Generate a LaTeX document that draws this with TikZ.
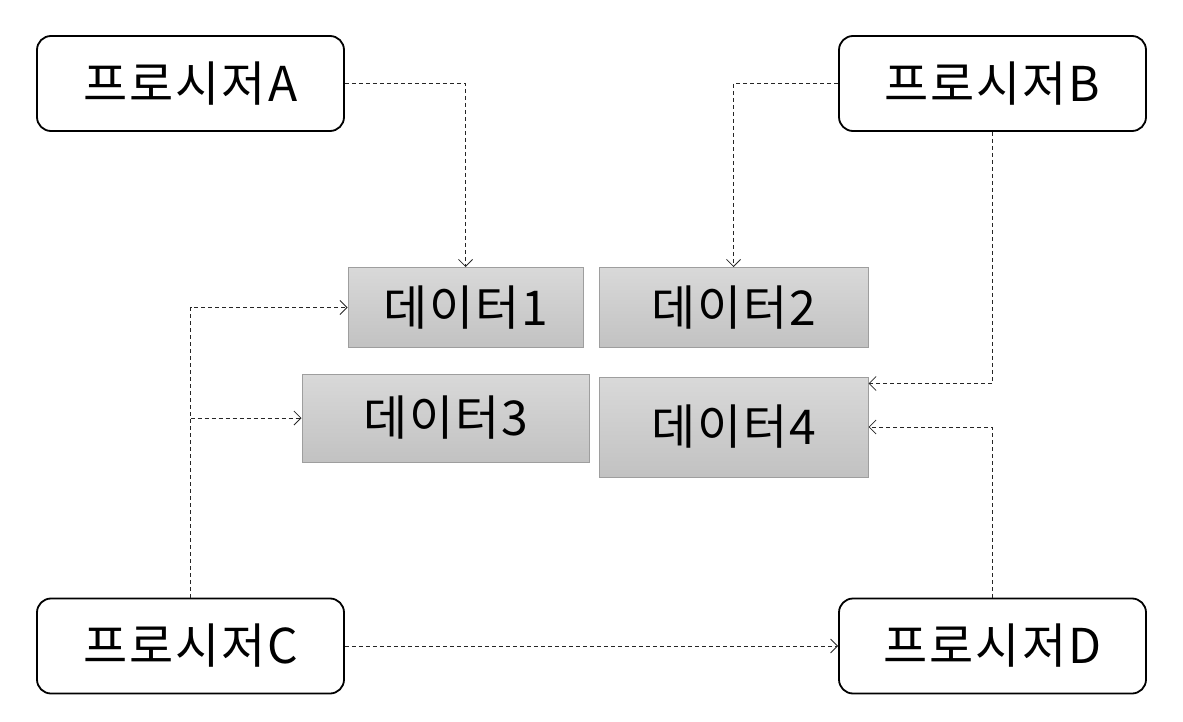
\documentclass[tikz,border=0pt]{standalone}
\usepackage{fontspec}
\setmainfont{Noto Sans CJK KR}[LetterSpace=4]
\usetikzlibrary{arrows.meta,calc}
\begin{document}
\begin{tikzpicture}[x=1bp,y=-1bp,
  proc/.style={draw=black,line width=1.8bp,rounded corners=14bp,fill=white,
    minimum width=307bp,minimum height=95bp,inner sep=0pt,
    font=\fontsize{48bp}{56bp}\selectfont},
  datab/.style={draw=black!38,line width=1bp,top color=black!15,bottom color=black!24,
    minimum height=80bp,inner sep=0pt,font=\fontsize{48bp}{56bp}\selectfont},
  conn/.style={draw=black!85,line width=0.8bp,dash pattern=on 4bp off 3bp,
    -{Straight Barb[length=7bp,width=14bp,line width=0.8bp]}}]
\useasboundingbox (0,0) rectangle (1183,722);
\node[proc] (A) at (190.5,83.5) {프로시저A};
\node[proc] (B) at (992.5,83.5) {프로시저B};
\node[proc] (C) at (190.5,646) {프로시저C};
\node[proc] (D) at (992.5,646) {프로시저D};
\node[datab,minimum width=235bp] (D1) at (465.5,307.5) {데이터1};
\node[datab,minimum width=269bp] (D2) at (733.5,307.5) {데이터2};
\node[datab,minimum width=287bp,minimum height=88bp] (D3) at (445.5,418) {데이터3};
\node[datab,minimum width=269bp,minimum height=100bp] (D4) at (733.5,427) {데이터4};
\coordinate (j3) at (C.north |- D3.west);
\coordinate (b4) at ([yshift=-7bp]D4.north east);
\draw[conn] (A.east) -| (D1.north);
\draw[conn] (B.west) -| (D2.north);
\draw[conn] (B.south) |- (b4);
\draw[conn] (D.north) |- (D4.east);
\draw[conn] (C.north) |- (D1.west);
\draw[conn] (j3) -- (D3.west);
\draw[conn] (C.east) -- (D.west);
\end{tikzpicture}
\end{document}
